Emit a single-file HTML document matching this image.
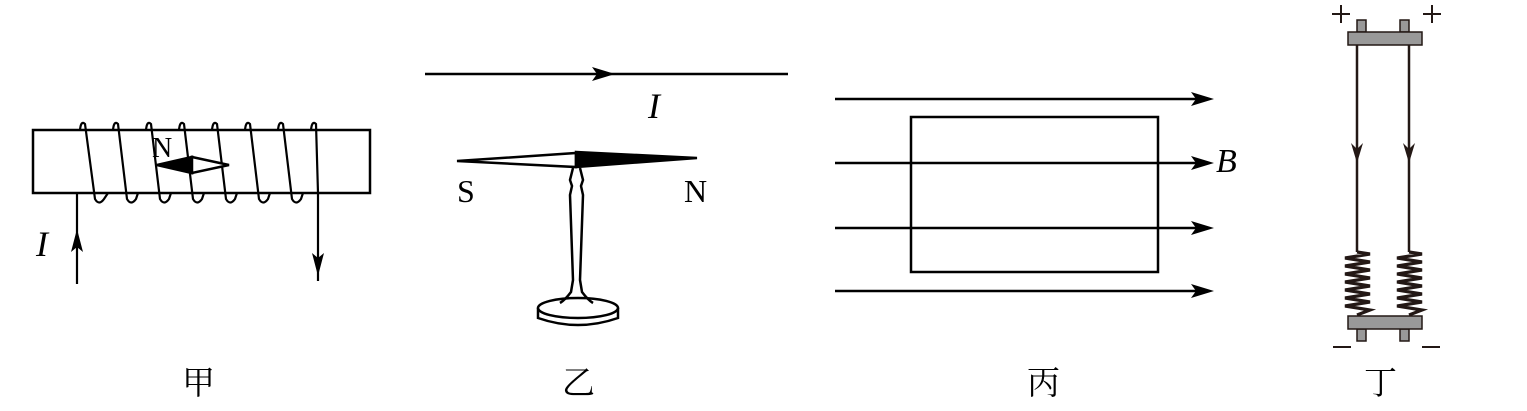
<!DOCTYPE html>
<html><head><meta charset="utf-8"><style>
html,body{margin:0;padding:0;background:#fff;}
svg{display:block;}
text{font-family:"Liberation Serif","Noto Serif CJK SC",serif;}
</style></head><body>
<svg width="1527" height="411" viewBox="0 0 1527 411" xmlns="http://www.w3.org/2000/svg">
<g stroke="#000" fill="none" stroke-width="2.5">
<!-- 甲 -->
<rect x="33" y="130" width="337" height="63"/>
<g stroke-width="2.2">
<path d="M77 193 L77 284"/>
<path d="M318 193 L318 281"/>
<path d="M80 130 Q81 120 85 124 L95 199 Q99 206 104 199 L108 193"/>
<path d="M113 130 Q114 120 118 124 L127 199 Q131 206 136 199 L138 193"/>
<path d="M146 130 Q147 120 151 124 L160 199 Q164 206 169 199 L171 193"/>
<path d="M179 130 Q180 120 184 124 L193 199 Q197 206 202 199 L204 193"/>
<path d="M212 130 Q213 120 217 124 L226 199 Q230 206 235 199 L237 193"/>
<path d="M245 130 Q246 120 250 124 L259 199 Q263 206 268 199 L270 193"/>
<path d="M278 130 Q279 120 283 124 L292 199 Q296 206 301 199 L303 193"/>
<path d="M311 130 Q312 120 316 124 L318 193"/>
</g>
<polygon points="157,165 192,157 192,173" fill="#000"/>
<polygon points="192,157 229,165 192,173" fill="#fff"/>
</g>
<polygon points="77,229 71,252 77,247 83,252" fill="#000"/>
<polygon points="318,276 312,253 318,258 324,253" fill="#000"/>
<text x="152" y="157" font-size="28">N</text>
<text x="36" y="256" font-size="36" font-style="italic">I</text>

<!-- 乙 -->
<g stroke="#000" stroke-width="2.5" fill="none">
<path d="M425 74 L788 74"/>
<polygon points="457,161 576,153 576,167" fill="#fff"/>
<polygon points="576,152 697,158 576,167" fill="#000"/>
<path d="M573 168 L570 180 L572 186 L570 195 L573 280 L571 292 Q565 300 560 303"/>
<path d="M580 168 L583 180 L581 186 L583 195 L580 280 L582 292 Q588 300 593 303"/>
<ellipse cx="578" cy="308" rx="40" ry="10" fill="none"/>
<path d="M538 308 L538 318 Q578 332 618 318 L618 308"/>
</g>
<polygon points="615,74 592,67 597,74 592,81" fill="#000"/>
<text x="648" y="118" font-size="36" font-style="italic">I</text>
<text x="457" y="202" font-size="32">S</text>
<text x="684" y="202" font-size="32">N</text>

<!-- 丙 -->
<g stroke="#000" stroke-width="2.5" fill="none">
<path d="M835 99 L1205 99"/>
<path d="M835 163 L1205 163"/>
<path d="M835 228 L1205 228"/>
<path d="M835 291 L1205 291"/>
<rect x="911" y="117" width="247" height="155"/>
</g>
<g fill="#000">
<polygon points="1214,99 1191,92 1196,99 1191,106"/>
<polygon points="1214,163 1191,156 1196,163 1191,170"/>
<polygon points="1214,228 1191,221 1196,228 1191,235"/>
<polygon points="1214,291 1191,284 1196,291 1191,298"/>
</g>
<text x="1216" y="172" font-size="34" font-style="italic">B</text>

<!-- 丁 -->
<g stroke="#231815" stroke-width="1.5" fill="#999">
<rect x="1357" y="20" width="9" height="12"/>
<rect x="1400" y="20" width="9" height="12"/>
<rect x="1348" y="32" width="74" height="13"/>
<rect x="1357" y="329" width="9" height="12"/>
<rect x="1400" y="329" width="9" height="12"/>
<rect x="1348" y="316" width="74" height="13"/>
</g>
<g stroke="#231815" stroke-width="2.5" fill="none">
<path d="M1357 45 L1357 252"/>
<path d="M1409 45 L1409 252"/>
<polyline stroke-width="3.2" points="1357,252 1370,254 1345,258 1370,262 1345,266 1370,270 1345,274 1370,278 1345,282 1370,286 1345,290 1370,294 1345,298 1370,302 1345,306 1370,310 1357,315"/>
<polyline stroke-width="3.2" points="1409,252 1422,254 1397,258 1422,262 1397,266 1422,270 1397,274 1422,278 1397,282 1422,286 1397,290 1422,294 1397,298 1422,302 1397,306 1422,310 1409,315"/>
<path d="M1332 14 L1350 14 M1341 5 L1341 23 M1423 14 L1441 14 M1432 5 L1432 23" stroke-width="2"/>
<path d="M1333 347 L1351 347 M1422 347 L1440 347" stroke-width="2"/>
</g>
<g fill="#231815">
<polygon points="1357,163 1351,143 1357,149 1363,143"/>
<polygon points="1409,163 1403,143 1409,149 1415,143"/>
</g>

<!-- labels -->
<g font-size="33">
<text x="182" y="394">甲</text>
<text x="562" y="394">乙</text>
<text x="1027" y="394">丙</text>
<text x="1364" y="394">丁</text>
</g>
</svg>
</body></html>
